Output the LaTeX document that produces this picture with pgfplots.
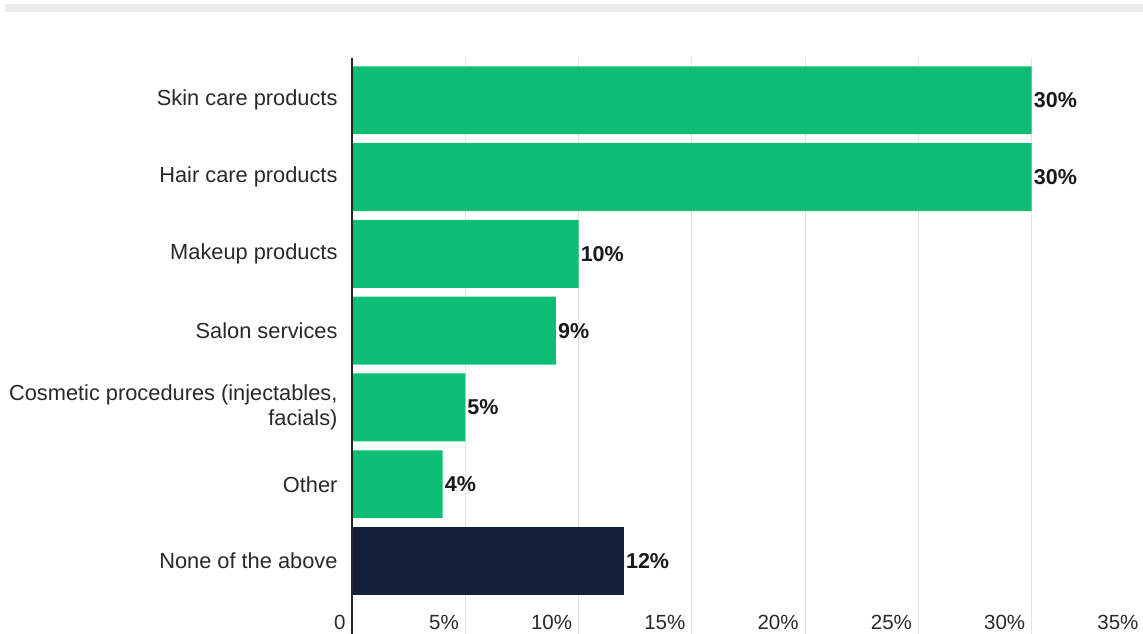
\documentclass[border=0pt]{standalone}
\usepackage{pgfplots}
\pgfplotsset{compat=1.18}
\usepackage{fontspec}
\setmainfont{Liberation Sans}
\definecolor{barg}{RGB}{12,190,116}
\definecolor{barn}{RGB}{20,32,56}
\definecolor{gridc}{RGB}{226,226,226}
\definecolor{labc}{RGB}{40,40,40}
\begin{document}
\begin{tikzpicture}[x=1pt,y=1pt]
\fill[black!8] (5,622) rectangle (1143,630);
\begin{axis}[
  at={(352pt,0pt)}, anchor=south west,
  scale only axis, width=793pt, height=576pt,
  xbar, bar width=0.885,
  xmin=0, xmax=35, ymin=-0.55, ymax=6.95, y dir=reverse,
  ytick={0,...,6},
  yticklabels={Skin care products,Hair care products,Makeup products,Salon services,{Cosmetic procedures (injectables,\\facials)},Other,None of the above},
  xtick={0,5,...,35},
  xticklabels={0,5\%,10\%,15\%,20\%,25\%,30\%,35\%},
  axis line style={draw=none},
  major tick length=0pt,
  xmajorgrids, grid style={gridc, line width=0.8pt},
  /pgf/number format/assume math mode=true,
  xticklabel style={anchor=east, yshift=12pt, xshift=-3pt, font=\fontsize{20.5}{24}\selectfont, text=labc},
  yticklabel style={align=right, xshift=-11pt, font=\fontsize{21.8}{25}\selectfont, text=labc},
  nodes near coords={\pgfmathprintnumber{\pgfplotspointmeta}\%},
  nodes near coords style={font=\bfseries\fontsize{21.5}{25}\selectfont, text=black!90, inner sep=2pt},
  clip=false,
]
\addplot[fill=barg, draw=none, bar shift=0pt] coordinates {(30,0) (30,1) (10,2) (9,3) (5,4) (4,5)};
\addplot[fill=barn, draw=none, bar shift=0pt] coordinates {(12,6)};
\draw[black!85, line width=1.6pt] (axis cs:0,-0.55) -- (axis cs:0,6.95);
\end{axis}
\pgfresetboundingbox
\path[use as bounding box] (0,0) rectangle (1143,634);
\end{tikzpicture}
\end{document}
